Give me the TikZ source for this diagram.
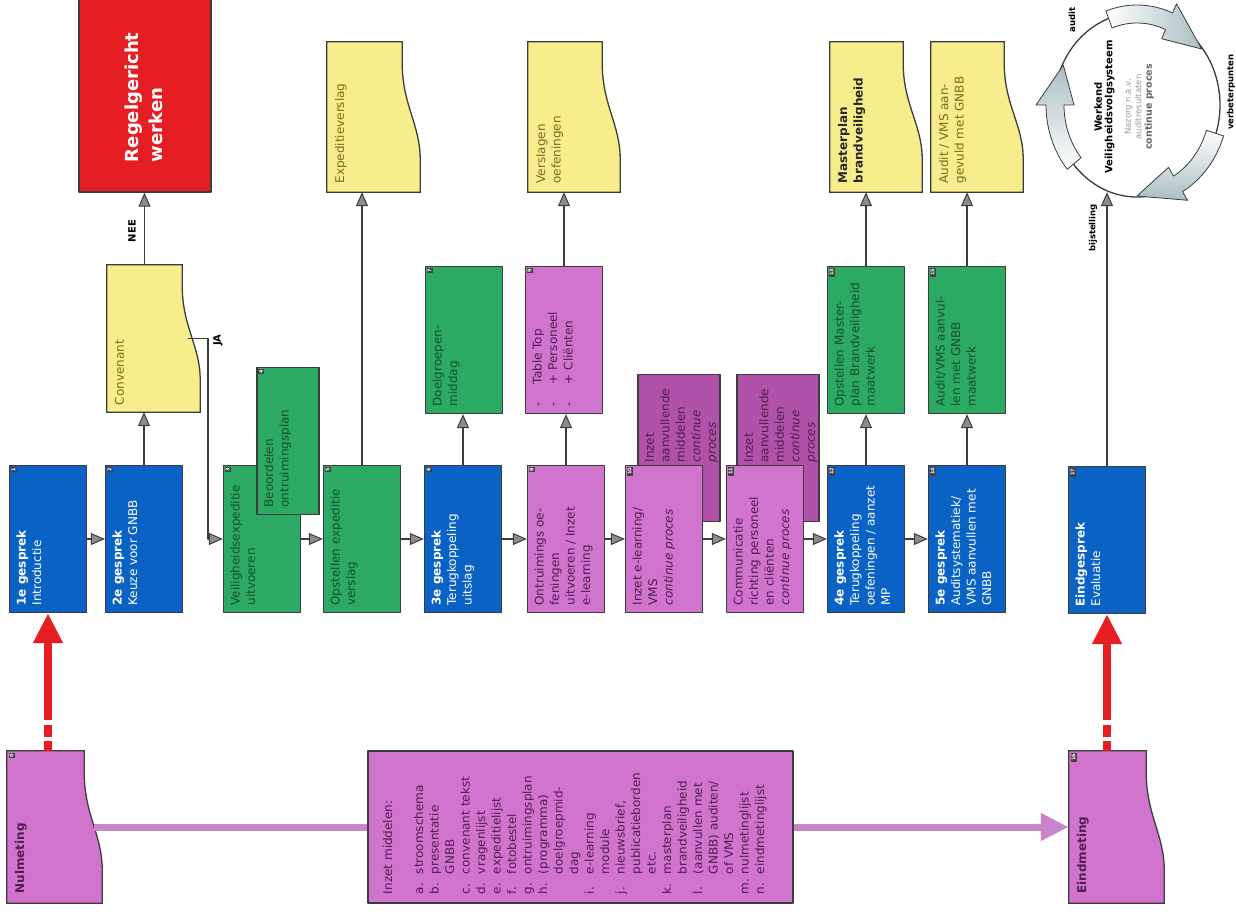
\documentclass[tikz,border=0pt]{standalone}
\usepackage{fontspec}
\setmainfont{DejaVu Sans}
\usepackage{graphicx}
\usetikzlibrary{arrows.meta,backgrounds,shapes.geometric,calc}

\definecolor{blauw}{RGB}{10,98,196}
\definecolor{groen}{RGB}{44,170,100}
\definecolor{roze}{RGB}{208,116,205}
\definecolor{rozedonker}{RGB}{176,82,170}
\definecolor{geel}{RGB}{248,237,140}
\definecolor{rood}{RGB}{228,30,34}
\definecolor{lijn}{RGB}{60,60,60}
\definecolor{groentekst}{RGB}{20,80,45}
\definecolor{rozetekst}{RGB}{80,30,80}
\definecolor{geeltekst}{RGB}{125,105,30}
\definecolor{paars}{RGB}{202,132,202}
\definecolor{kringblauw}{RGB}{170,190,196}

\newcommand{\vtekst}[2][63pt]{\rotatebox{90}{\begin{minipage}[c][#1][t]{133pt}\raggedright #2\end{minipage}}}
\newcommand{\vtekstx}[3]{\rotatebox{90}{\begin{minipage}[c][#1][t]{#2}\raggedright #3\end{minipage}}}
\newcommand{\lpunt}[1]{\makebox[20pt][l]{#1}}
\newcommand{\lspring}{\hspace*{20pt}}

\newcommand{\docvorm}[3]{\filldraw[fill=#3,draw=lijn,line width=1.3pt] (#1.north west) -- (#1.north east) -- ($(#1.north east)!0.14!(#1.south east)$) .. controls ($(#1.north east)!0.42!(#1.south east)$) and ($(#1.north east)!0.55!(#1.south east)+(#2,0)$) .. ($(#1.north east)!0.78!(#1.south east)+(#2,0)$) -- ($(#1.south east)+(#2,0)$) -- (#1.south west) -- cycle;}

\newcommand{\kringpijl}[4]{\draw[draw=lijn,line width=0.8pt,#4] (#1:73 and 82) arc[start angle=#1,end angle=#2,x radius=73,y radius=82] -- (#2:63 and 72) -- (#3:82 and 91) -- (#2:101 and 110) -- (#2:91 and 100) arc[start angle=#2,end angle=#1,x radius=91,y radius=100] -- cycle;}

\begin{document}
\begin{tikzpicture}[x=1pt,y=-1pt,line join=round]
\tikzstyle{every node}=[font=\fontsize{12}{15.5}\selectfont]
\tikzstyle{stap}=[draw=lijn,line width=1.3pt,minimum width=77pt,minimum height=147pt,inner sep=0pt]
\tikzstyle{blauwstap}=[stap,fill=blauw,text=white]
\tikzstyle{groenstap}=[stap,fill=groen,text=groentekst]
\tikzstyle{rozestap}=[stap,fill=roze,text=rozetekst]
\tikzstyle{docstap}=[minimum width=75pt,minimum height=150pt,inner sep=0pt,text=geeltekst]
\tikzstyle{pijl}=[draw=lijn,line width=1.9pt,-{Triangle[length=14pt,width=12pt,fill=black!45,line width=1pt]}]
\tikzstyle{roodpijl}=[draw=rood,line width=8pt,-{Triangle[length=30pt,width=28pt]},dash pattern=on 10pt off 4pt on 12pt off 5pt on 400pt]
\tikzstyle{paarslijn}=[draw=paars,line width=7pt]
\tikzstyle{nummer}=[fill=black!75,text=white,font=\fontsize{5}{5}\selectfont\bfseries,inner sep=1.2pt,rotate=90,anchor=north east]
\tikzstyle{kringtekst}=[font=\fontsize{8.5}{9}\selectfont\bfseries,rotate=90]
\useasboundingbox (0,0) rectangle (1236,919);

\node[blauwstap] (n1) at (48,539) {\vtekst{\textbf{1e gesprek}\\Introductie}};
\node[blauwstap] (n2) at (144,539) {\vtekst{\textbf{2e gesprek}\\Keuze voor GNBB}};
\node[groenstap] (n3) at (262,539) {\vtekst{Veiligheidsexpeditie\\uitvoeren}};
\node[groenstap,minimum width=62pt] (n4) at (288,441) {\vtekst[48pt]{Beoordelen\\ontruimingsplan}};
\node[groenstap] (n5) at (362,539) {\vtekst{Opstellen expeditie\\verslag}};
\node[blauwstap] (n6) at (463,539) {\vtekst{\textbf{3e gesprek}\\Terugkoppeling\\uitslag}};
\node[groenstap] (n7) at (464,340) {\vtekst{Doelgroepen-\\middag}};
\node[rozestap] (n8) at (566,539) {\vtekst{Ontruimings oe-\\feningen\\uitvoeren / Inzet\\e-learning}};
\node[rozestap] (n9) at (564,340) {\vtekst{-\hspace{18pt}Table Top\\-\hspace{18pt}+ Personeel\\-\hspace{18pt}+ Cliënten}};
\node[rozestap,fill=rozedonker,minimum width=82pt] (n10b) at (679,448) {\vtekst[68pt]{\leftskip=52pt Inzet\\aanvullende\\middelen\\\textit{continue}\\\textit{proces}}};
\node[rozestap] (n10) at (664,539) {\vtekst{Inzet e-learning/\\VMS\\\textit{continue proces}}};
\node[rozestap,fill=rozedonker,minimum width=82pt] (n11b) at (778,448) {\vtekst[68pt]{\leftskip=52pt Inzet\\aanvullende\\middelen\\\textit{continue}\\\textit{proces}}};
\node[rozestap] (n11) at (765,539) {\vtekst{Communicatie\\richting personeel\\en cliënten\\\textit{continue proces}}};
\node[blauwstap] (n12) at (866,539) {\vtekst{\textbf{4e gesprek}\\Terugkoppeling\\oefeningen / aanzet\\MP}};
\node[groenstap] (n13) at (866,340) {\vtekst{Opstellen Master-\\plan Brandveiligheid\\maatwerk}};
\node[blauwstap] (n14) at (967,539) {\vtekst{\textbf{5e gesprek}\\Auditsystematiek/\\VMS aanvullen met\\GNBB}};
\node[groenstap] (n15) at (967,340) {\vtekst{Audit/VMS aanvul-\\len met GNBB\\maatwerk}};
\node[blauwstap] (n16) at (1107,540) {\vtekst{\textbf{Eindgesprek}\\Evaluatie}};

\node[docstap,minimum height=147pt] (conv) at (144.5,338.5) {\vtekst[59pt]{Convenant}};
\node[docstap] (exp) at (364.5,117) {\vtekst[59pt]{Expeditieverslag}};
\node[docstap,minimum width=74pt] (versl) at (565,117) {\vtekst[58pt]{Verslagen\\oefeningen}};
\node[docstap,minimum width=73pt,text=black!85] (master) at (866.5,117) {\vtekst[57pt]{\textbf{Masterplan}\\\textbf{brandveiligheid}}};
\node[docstap,minimum width=73pt] (auditdoc) at (967.5,117) {\vtekst[57pt]{Audit / VMS aan-\\gevuld met GNBB}};
\node[docstap,minimum width=77pt,minimum height=152pt,text=rozetekst] (nul) at (45.5,827) {\vtekst[61pt]{\textbf{Nulmeting}}};
\node[docstap,minimum width=77pt,minimum height=152pt,text=rozetekst] (eind) at (1107.5,827) {\vtekst[61pt]{\textbf{Eindmeting}}};

\node[draw=lijn,line width=1.3pt,fill=rood,text=white,minimum width=132pt,minimum height=196pt,inner sep=0pt] (regel) at (145,94) {\vtekstx{40pt}{136pt}{\bfseries\fontsize{18}{24}\selectfont Regelgericht\\werken}};

\node[rozestap,minimum width=425pt,minimum height=152pt] (inzet) at (580.5,827) {\vtekstx{395pt}{134pt}{Inzet middelen:\\[15.5pt]
\lpunt{a.}stroomschema\\
\lpunt{b.}presentatie\\
\lspring GNBB\\
\lpunt{c.}convenant tekst\\
\lpunt{d.}vragenlijst\\
\lpunt{e.}expeditielijst\\
\lpunt{f.}fotobestel\\
\lpunt{g.}ontruimingsplan\\
\lpunt{h.}(programma)\\
\lspring doelgroepmid-\\
\lspring dag\\
\lpunt{i.}e-learning\\
\lspring module\\
\lpunt{j.}nieuwsbrief,\\
\lspring publicatieborden\\
\lspring etc.\\
\lpunt{k.}masterplan\\
\lspring brandveiligheid\\
\lpunt{l.}(aanvullen met\\
\lspring GNBB) auditen/\\
\lspring of VMS\\
\lpunt{m.}nulmetinglijst\\
\lpunt{n.}eindmetinglijst}};

\begin{scope}[on background layer]
\docvorm{conv}{18}{geel}
\docvorm{exp}{18}{geel}
\docvorm{versl}{18}{geel}
\docvorm{master}{19}{geel}
\docvorm{auditdoc}{19}{geel}
\docvorm{nul}{18}{roze}
\docvorm{eind}{18}{roze}
\end{scope}

\foreach \n/\g in {nul/0,n1/1,n2/2,n3/3,n4/4,n5/5,n6/6,n7/7,n8/8,n9/9,n10/10,n11/11,n12/12,n13/13,n14/14,n15/15,eind/16,n16/17}
  \node[nummer] (nr\n) at ([xshift=1.5pt,yshift=-1.5pt]\n.north west) {\g};

\node[draw=lijn,line width=1.3pt,ellipse,minimum width=166pt,minimum height=184pt,inner sep=0pt] (kring) at (1137,105) {};
\begin{scope}[shift={(kring.center)}]
\kringpijl{250}{293}{322}{left color=white,right color=kringblauw}
\kringpijl{18}{60}{90}{top color=white,bottom color=kringblauw}
\kringpijl{140}{180}{206}{bottom color=white,top color=kringblauw}
\end{scope}
\node[rotate=90,align=center,font=\fontsize{10}{10.5}\selectfont] (kringinhoud) at (1124,107) {\textbf{Werkend}\\\textbf{Veiligheidsvolgsysteem}\\[8pt]{\color{black!40}\fontsize{8.5}{10}\selectfont Nazorg n.a.v.}\\{\color{black!40}\fontsize{8.5}{10}\selectfont auditresultaten}\\{\color{black!60}\bfseries\fontsize{9.5}{10}\selectfont continue proces}};
\node[kringtekst] (audit) at (1072,20) {audit};
\node[kringtekst] (verbeter) at (1231,92) {verbeterpunten};
\node[kringtekst] (bijst) at (1093,228) {bijstelling};

\node[rotate=90,font=\fontsize{10}{10}\selectfont\bfseries] (nee) at (132,231) {NEE};
\node[rotate=90,font=\fontsize{10}{10}\selectfont\bfseries] (ja) at (218,340) {JA};

\draw[pijl] (n1) -- (n2);
\draw[pijl] (n2.north) -- (n2.north |- conv.south);
\draw[pijl] (conv.north) -- (conv.north |- regel.south);
\draw[pijl] ([xshift=6pt]conv.east) -- ++(20,0) |- (n3.west);
\draw[pijl] (n3) -- (n5);
\draw[pijl] (n5.north) -- (n5.north |- exp.south);
\draw[pijl] (n5) -- (n6);
\draw[pijl] (n6.north) -- (n6.north |- n7.south);
\draw[pijl] (n6) -- (n8);
\draw[pijl] (n8.north) -- (n8.north |- n9.south);
\draw[pijl] (n9.north) -- (n9.north |- versl.south);
\draw[pijl] (n8) -- (n10);
\draw[pijl] (n10) -- (n11);
\draw[pijl] (n11) -- (n12);
\draw[pijl] (n12) -- (n13);
\draw[pijl] (n13.north) -- (n13.north |- master.south);
\draw[pijl] (n12) -- (n14);
\draw[pijl] (n14) -- (n15);
\draw[pijl] (n15.north) -- (n15.north |- auditdoc.south);
\draw[pijl] (n16.north) -- (n16.north |- kring.252);

\draw[roodpijl] (n1.south |- nul.north) -- (n1.south);
\draw[roodpijl] (n16.south |- eind.north) -- (n16.south);
\draw[paarslijn] ([xshift=10pt]nul.east) -- (inzet.west);
\draw[paarslijn,-{Triangle[length=28pt,width=26pt]}] (inzet.east) -- (eind.west);
\end{tikzpicture}
\end{document}
